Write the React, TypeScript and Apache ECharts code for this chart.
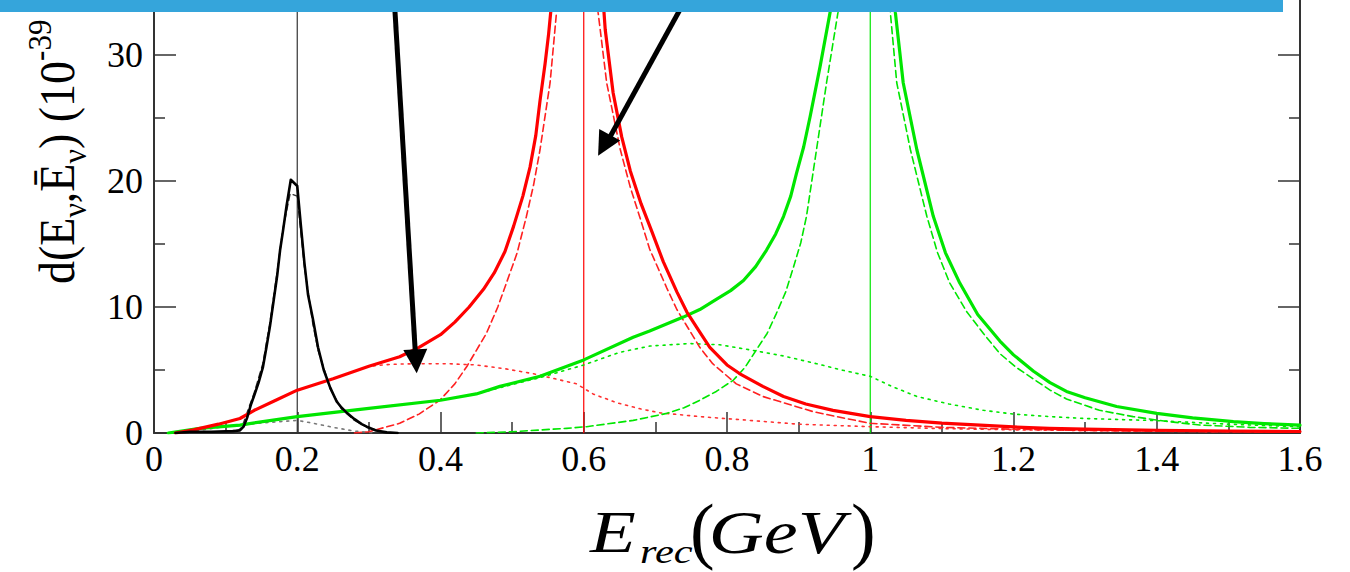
import React, { useEffect, useRef } from "react";
import * as echarts from "echarts";

// x-axis range / ticks
const xMin = 0;
const xMax = 1.6;
const xInterval = 0.2;
const yMin = 0;
const yMax = 40;
const yInterval = 10;

// vertical reference lines (true energies)
const verticalLines = [0.2, 0.6, 1.0];
const verticalColors = ["#333333", "#ff0000", "#00e600"];

// Black (0.2 GeV)
const blackSolid = [
  [0.03, 0], [0.05, 0.1], [0.08, 0.1], [0.11, 0.15], [0.12, 0.2], [0.125, 0.5], [0.13, 1.2],
  [0.135, 2.2], [0.14, 3.0], [0.146, 4.0], [0.152, 5.2], [0.157, 6.8], [0.162, 8.5], [0.167, 10.5],
  [0.172, 12.5], [0.176, 14.5], [0.18, 16.0], [0.185, 18.0], [0.191, 20.1], [0.2, 19.6],
  [0.205, 16.5], [0.21, 13.5], [0.215, 11.0], [0.222, 9.0], [0.229, 6.8], [0.237, 5.0],
  [0.246, 3.6], [0.255, 2.5], [0.262, 2.0], [0.27, 1.56], [0.28, 1.1], [0.29, 0.7], [0.297, 0.5],
  [0.31, 0.2], [0.325, 0.05], [0.34, 0],
];
const blackDashed = [
  [0.03, 0], [0.11, 0.1], [0.12, 0.3], [0.125, 0.8], [0.13, 1.6], [0.14, 3.2], [0.152, 5.5],
  [0.162, 8.8], [0.172, 12.8], [0.18, 16.2], [0.19, 19.0], [0.2, 18.8], [0.205, 16.0], [0.21, 13.2],
  [0.222, 8.6], [0.229, 6.6], [0.246, 3.5], [0.262, 1.9], [0.28, 1.0], [0.3, 0.4], [0.32, 0.05], [0.34, 0],
];
const blackDotted = [
  [0.03, 0], [0.06, 0.2], [0.1, 0.5], [0.15, 0.8], [0.2, 1.0], [0.22, 0.8], [0.25, 0.45], [0.28, 0.15], [0.31, 0],
];

// Red (0.6 GeV)
const redSolid = [
  [0.03, 0], [0.055, 0.25], [0.09, 0.7], [0.12, 1.15], [0.14, 1.8], [0.17, 2.6], [0.2, 3.4],
  [0.25, 4.3], [0.3, 5.3], [0.343, 6.05], [0.37, 6.8], [0.4, 7.8], [0.42, 8.8], [0.44, 10.0],
  [0.46, 11.4], [0.475, 12.7], [0.49, 14.4], [0.502, 16.4], [0.515, 18.8], [0.525, 21.1],
  [0.533, 23.6], [0.539, 26.4], [0.546, 29.3], [0.551, 31.7], [0.56, 37], [0.58, 55], [0.6, 70],
  [0.62, 40], [0.63, 32], [0.641, 27.0], [0.653, 23.5], [0.665, 20.8], [0.68, 18.2], [0.695, 16.0],
  [0.711, 13.6], [0.73, 11.2], [0.744, 9.6], [0.762, 8.0], [0.776, 6.8], [0.8, 5.4], [0.818, 4.7],
  [0.85, 3.7], [0.879, 2.9], [0.91, 2.3], [0.948, 1.8], [1.0, 1.3], [1.05, 1.0], [1.1, 0.78],
  [1.2, 0.48], [1.25, 0.37], [1.3, 0.3], [1.4, 0.22], [1.5, 0.16], [1.6, 0.12],
];
const redDashed = [
  [0.28, 0], [0.3, 0.1], [0.343, 0.77], [0.37, 1.5], [0.399, 2.6], [0.42, 3.9], [0.437, 5.3],
  [0.464, 7.9], [0.48, 10.0], [0.492, 11.9], [0.507, 14.3], [0.52, 17.2], [0.53, 19.7], [0.539, 22.5],
  [0.553, 27.8], [0.562, 33.4], [0.58, 50], [0.6, 65], [0.61, 45], [0.62, 33.4], [0.632, 27.8],
  [0.651, 22.5], [0.665, 19.5], [0.679, 17.0], [0.692, 14.6], [0.716, 11.5], [0.73, 9.8],
  [0.762, 6.8], [0.78, 5.5], [0.813, 3.9], [0.85, 2.9], [0.879, 2.4], [0.92, 1.7], [0.953, 1.3],
  [1.0, 0.77], [1.1, 0.45], [1.2, 0.3], [1.3, 0.2], [1.4, 0.14], [1.5, 0.1], [1.6, 0.08],
];
const redDotted = [
  [0.03, 0], [0.055, 0.25], [0.09, 0.7], [0.12, 1.15], [0.14, 1.8], [0.17, 2.6], [0.2, 3.4],
  [0.25, 4.3], [0.3, 5.3], [0.33, 5.45], [0.367, 5.5], [0.41, 5.5], [0.45, 5.4], [0.49, 5.1],
  [0.53, 4.7], [0.56, 4.3], [0.59, 3.9], [0.613, 3.1], [0.646, 2.4], [0.68, 1.9], [0.707, 1.6],
  [0.762, 1.3], [0.832, 1.0], [0.9, 0.7], [1.0, 0.5], [1.1, 0.35], [1.2, 0.25], [1.3, 0.2],
  [1.4, 0.15], [1.5, 0.12], [1.6, 0.1],
];

// Green (1.0 GeV)
const greenSolid = [
  [0.02, 0], [0.064, 0.37], [0.12, 0.63], [0.2, 1.3], [0.3, 1.96], [0.4, 2.6], [0.45, 3.1],
  [0.483, 3.7], [0.539, 4.5], [0.6, 5.8], [0.669, 7.6], [0.692, 8.1], [0.739, 9.2], [0.762, 9.8],
  [0.785, 10.6], [0.805, 11.3], [0.823, 12.1], [0.84, 13.2], [0.855, 14.5], [0.868, 15.8],
  [0.879, 17.2], [0.889, 18.8], [0.897, 20.6], [0.907, 22.7], [0.916, 25.1], [0.93, 29.1],
  [0.944, 33.4], [0.97, 50], [1.0, 65], [1.02, 45], [1.035, 33.4], [1.046, 27.8], [1.065, 22.5],
  [1.088, 17.2], [1.105, 14.3], [1.125, 11.9], [1.15, 9.4], [1.181, 7.3], [1.2, 6.2],
  [1.228, 4.9], [1.251, 4.0], [1.274, 3.3], [1.3, 2.8], [1.344, 2.1], [1.4, 1.56], [1.45, 1.2],
  [1.507, 0.9], [1.55, 0.75], [1.6, 0.63],
];
const greenDashed = [
  [0.45, 0], [0.5, 0.1], [0.576, 0.37], [0.604, 0.5], [0.669, 1.0], [0.716, 1.56], [0.74, 2.0],
  [0.762, 2.6], [0.785, 3.3], [0.809, 4.2], [0.825, 5.2], [0.841, 6.6], [0.856, 7.9], [0.869, 9.5],
  [0.882, 11.2], [0.893, 13.2], [0.903, 15.1], [0.911, 17.2], [0.925, 22.5], [0.939, 27.8],
  [0.955, 33.4], [0.98, 50], [1.0, 60], [1.015, 45], [1.028, 33.4], [1.037, 27.8], [1.056, 22.5],
  [1.079, 17.2], [1.094, 14.3], [1.111, 11.9], [1.135, 9.6], [1.158, 7.9], [1.181, 6.3],
  [1.204, 5.2], [1.251, 3.4], [1.274, 2.7], [1.32, 1.8], [1.367, 1.3], [1.41, 0.95], [1.46, 0.63],
  [1.53, 0.45], [1.6, 0.37],
];
const greenDotted = [
  [0.02, 0], [0.064, 0.37], [0.12, 0.63], [0.2, 1.3], [0.3, 1.96], [0.4, 2.6], [0.45, 3.1],
  [0.483, 3.6], [0.539, 4.4], [0.6, 5.4], [0.65, 6.4], [0.692, 6.9], [0.748, 7.1], [0.79, 7.0],
  [0.832, 6.6], [0.88, 6.1], [0.925, 5.5], [0.96, 5.0], [1.0, 4.5], [1.03, 3.7], [1.065, 2.9],
  [1.11, 2.3], [1.158, 1.8], [1.2, 1.5], [1.251, 1.3], [1.3, 1.15], [1.4, 0.98], [1.5, 0.7], [1.6, 0.5],
];

const SERIF = "'Liberation Serif', 'Times New Roman', serif";

function lineSeries(name: string, data: number[][], color: string, width: number, type: any, z = 3) {
  return {
    name,
    type: "line",
    data,
    showSymbol: false,
    symbol: "none",
    smooth: false,
    z,
    lineStyle: { color, width, type, join: "round", cap: "round" },
    emphasis: { disabled: true },
  };
}

export default function App() {
  const ref = useRef<HTMLDivElement>(null);
  useEffect(() => {
    const chart = echarts.init(ref.current!, null, { renderer: "svg" });

    const vSeries = verticalLines.map((v, i) =>
      lineSeries("ref" + v, [[v, yMin], [v, yMax]], verticalColors[i], 1.2, "solid", 2)
    );

    const axisLineStyle = { color: "#333", width: 2 };
    const tickStyle = { color: "#333", width: 1.5 };

    chart.setOption({
      animation: false,
      backgroundColor: "#fff",
      grid: { left: 154, right: 50, top: -71, bottom: 139, containLabel: false, outerBoundsMode: "none" },
      xAxis: {
        type: "value",
        min: xMin,
        max: xMax,
        interval: xInterval,
        axisLine: { show: true, onZero: false, lineStyle: axisLineStyle },
        axisTick: { show: true, inside: true, length: 21, lineStyle: tickStyle },
        minorTick: { show: true, splitNumber: 2, length: 11, lineStyle: tickStyle },
        splitLine: { show: false },
        axisLabel: { fontFamily: SERIF, fontSize: 36, color: "#000", margin: 8 },
      },
      yAxis: [
        {
          type: "value",
          min: yMin,
          max: yMax,
          interval: yInterval,
          position: "left",
          axisLine: { show: true, onZero: false, lineStyle: axisLineStyle },
          axisTick: { show: true, inside: true, length: 22, lineStyle: tickStyle },
          minorTick: { show: true, splitNumber: 2, length: 11, lineStyle: tickStyle },
          splitLine: { show: false },
          axisLabel: { fontFamily: SERIF, fontSize: 36, color: "#000", margin: 11, showMaxLabel: false },
        },
        {
          type: "value",
          min: yMin,
          max: yMax,
          interval: yInterval,
          position: "right",
          axisLine: { show: true, onZero: false, lineStyle: axisLineStyle },
          axisTick: { show: true, inside: true, length: 22, lineStyle: tickStyle },
          minorTick: { show: true, splitNumber: 2, length: 11, lineStyle: tickStyle },
          splitLine: { show: false },
          axisLabel: { show: false },
        },
      ],
      series: [
        ...vSeries,
        lineSeries("blackDotted", blackDotted, "#777", 1.6, [2, 5]),
        lineSeries("redDotted", redDotted, "#ff3030", 1.6, [2, 5]),
        lineSeries("greenDotted", greenDotted, "#00e600", 1.6, [2, 5]),
        lineSeries("blackDashed", blackDashed, "#333", 1.5, [6, 4]),
        lineSeries("redDashed", redDashed, "#ff2020", 1.6, [7, 4]),
        lineSeries("greenDashed", greenDashed, "#00e600", 1.6, [7, 4]),
        lineSeries("greenSolid", greenSolid, "#00e600", 3.2, "solid", 4),
        lineSeries("redSolid", redSolid, "#ff0000", 3.2, "solid", 4),
        lineSeries("blackSolid", blackSolid, "#000", 2.6, "solid", 4),
      ],
      graphic: [
        // arrows
        { type: "line", z: 50, shape: { x1: 394, y1: -5, x2: 415.3, y2: 352 }, style: { stroke: "#000", lineWidth: 5 } },
        { type: "polygon", z: 50, shape: { points: [[403.3, 350.1], [427.3, 348.7], [416.7, 373.3]] }, style: { fill: "#000" } },
        { type: "line", z: 50, shape: { x1: 688, y1: -5, x2: 610.5, y2: 136 }, style: { stroke: "#000", lineWidth: 5 } },
        { type: "polygon", z: 50, shape: { points: [[599.2, 128.9], [620.2, 140.5], [598.1, 155.7]] }, style: { fill: "#000" } },
        // y axis title (rotated)
        {
          type: "text",
          z: 40,
          x: 57,
          y: 284,
          rotation: Math.PI / 2,
          scaleY: 1.08,
          style: {
            text: "{m|d(E}{s|ν}{m|,Ē}{s|ν}{m|) (10}{p|-39}{m| cm}{p|2}{m|)}",
            align: "left",
            verticalAlign: "middle",
            rich: {
              m: { fontFamily: SERIF, fontSize: 46, lineHeight: 64, fill: "#000" },
              s: { fontFamily: SERIF, fontSize: 32, lineHeight: 30, verticalAlign: "bottom", fill: "#000" },
              p: { fontFamily: SERIF, fontSize: 31, lineHeight: 30, verticalAlign: "top", fill: "#000" },
            },
          },
        },
        // x axis title
        {
          type: "group",
          x: 590,
          y: 0,
          scaleX: 1.25,
          z: 40,
          children: [
            { type: "text", x: 0, y: 532, style: { text: "E", fontFamily: SERIF, fontStyle: "italic", fontSize: 60, fill: "#000", align: "left", verticalAlign: "middle" } },
            { type: "text", x: 40, y: 552, style: { text: "rec", fontFamily: SERIF, fontStyle: "italic", fontSize: 34, fill: "#000", align: "left", verticalAlign: "middle" } },
            { type: "text", x: 95, y: 532, style: { text: "GeV", fontFamily: SERIF, fontStyle: "italic", fontSize: 61, fill: "#000", align: "left", verticalAlign: "middle" } },
          ],
        },
        { type: "text", z: 40, x: 690, y: 530, style: { text: "(", fontFamily: SERIF, fontSize: 74, fill: "#000", align: "left", verticalAlign: "middle" } },
        { type: "text", z: 40, x: 851, y: 530, style: { text: ")", fontFamily: SERIF, fontSize: 74, fill: "#000", align: "left", verticalAlign: "middle" } },
        // blue bar at top
        { type: "rect", z: 100, shape: { x: 0, y: 0, width: 1283, height: 12 }, style: { fill: "#35a5db" } },
      ],
    });
    return () => chart.dispose();
  }, []);
  return (
    <div
      ref={ref}
      style={{ position: "fixed", left: 0, top: 0, width: 1350, height: 572, background: "#fff" }}
    />
  );
}
